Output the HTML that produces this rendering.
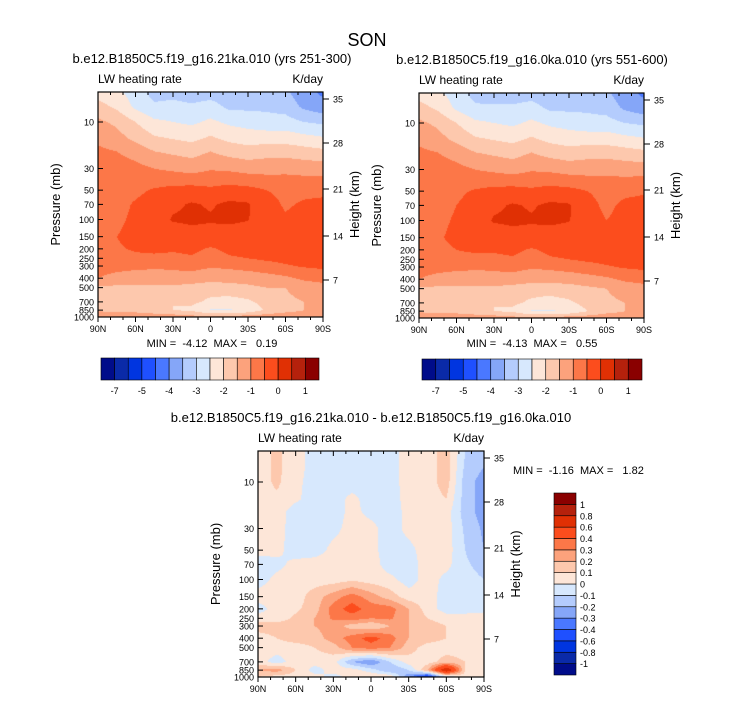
<!DOCTYPE html>
<html><head><meta charset="utf-8">
<style>
body{margin:0;background:#fff;width:733px;height:701px;overflow:hidden;position:relative;font-family:"Liberation Sans",sans-serif;}
canvas{position:absolute;left:0;top:0;}
svg{position:absolute;left:0;top:0;}
text{font-family:"Liberation Sans",sans-serif;fill:#000;white-space:pre;}
</style></head>
<body>
<canvas id="cv" width="733" height="701"></canvas>
<svg id="sv" width="733" height="701"></svg>
<script>
// ---- data ----
const lats = ['90N','75N','60N','45N','30N','15N','0','15S','30S','45S','60S','75S','90S'];
const pLevels = [5,7,10,15,20,30,50,70,100,150,200,250,300,400,500,700,850,1000];
const topLevels = [-7,-6,-5,-4.5,-4,-3.5,-3,-2.5,-2,-1.5,-1,-0.5,0,0.5,1];
const topLabels = ['-7','-5','-4','-3','-2','-1','0','1'];
const diffLevels = [-1,-0.8,-0.6,-0.4,-0.3,-0.2,-0.1,0,0.1,0.2,0.3,0.4,0.6,0.8,1];
const diffLabels = ['-1','-0.8','-0.6','-0.4','-0.3','-0.2','-0.1','0','0.1','0.2','0.3','0.4','0.6','0.8','1'];
const palette = ['#000c8a','#0a2aa8','#0035e0','#1f50ff','#4a78ff','#85a6f8','#b4ccfd','#d7e8fd','#fde6d8','#fdc8ad','#fca27c','#fc7748','#fc4d1d','#e03004','#b5210c','#8a0000'];
const pTicks = [10,30,50,70,100,150,200,250,300,400,500,700,850,1000];
const hTicks = ['35','28','21','14','7'];
const hTickOffsets = [7,51,97,144,188];
const latTicks = ['90N','60N','30N','0','30S','60S','90S'];

const fieldA = [
[-2.2,-2.4,-2.7,-3.2,-3.2,-3.3,-3.2,-3.3,-3.3,-3.4,-3.4,-3.8,-4.1],
[-1.8,-2.1,-2.6,-2.9,-2.8,-2.9,-2.8,-3.1,-3.1,-3.1,-3.2,-3.6,-3.8],
[-1.4,-1.6,-2.0,-2.4,-2.5,-2.6,-2.4,-2.6,-2.7,-2.8,-2.8,-3.0,-3.1],
[-1.1,-1.3,-1.6,-1.9,-2.0,-2.1,-1.9,-2.1,-2.2,-2.2,-2.2,-2.3,-2.4],
[-0.9,-1.0,-1.2,-1.5,-1.6,-1.7,-1.5,-1.7,-1.8,-1.7,-1.7,-1.8,-1.9],
[-0.7,-0.75,-0.85,-1.0,-1.1,-1.2,-1.05,-1.1,-1.2,-1.2,-1.15,-1.2,-1.2],
[-0.7,-0.7,-0.6,-0.45,-0.35,-0.3,-0.4,-0.3,-0.35,-0.5,-0.6,-0.6,-0.6],
[-0.7,-0.65,-0.45,-0.3,-0.1,0.05,-0.05,0.1,0.05,-0.35,-0.55,-0.45,-0.4],
[-0.7,-0.6,-0.4,-0.3,0.05,0.1,0.05,0.1,0.02,-0.3,-0.45,-0.35,-0.3],
[-0.7,-0.5,-0.35,-0.3,-0.3,-0.2,-0.2,-0.25,-0.25,-0.3,-0.3,-0.3,-0.3],
[-0.7,-0.55,-0.45,-0.4,-0.45,-0.4,-0.55,-0.4,-0.35,-0.3,-0.3,-0.3,-0.3],
[-0.7,-0.65,-0.6,-0.6,-0.6,-0.55,-0.7,-0.55,-0.5,-0.4,-0.35,-0.35,-0.35],
[-0.75,-0.8,-0.85,-0.9,-0.9,-0.85,-0.95,-0.9,-0.8,-0.7,-0.55,-0.45,-0.4],
[-1.0,-1.2,-1.3,-1.3,-1.2,-1.2,-1.3,-1.3,-1.3,-1.2,-1.1,-0.9,-0.8],
[-1.6,-1.6,-1.6,-1.6,-1.6,-1.7,-1.8,-1.7,-1.6,-1.5,-1.5,-1.3,-1.2],
[-1.7,-1.7,-1.7,-1.8,-2.0,-1.9,-2.1,-2.2,-2.1,-1.8,-1.6,-1.5,-1.5],
[-1.6,-1.7,-1.7,-1.8,-2.0,-2.1,-2.55,-2.55,-2.4,-1.9,-1.7,-1.5,-1.5],
[-1.0,-1.0,-1.1,-1.2,-1.2,-1.3,-1.4,-1.3,-1.2,-1.2,-1.1,-1.2,-1.4]];

const fieldB = [
[-2.2,-2.4,-2.7,-3.2,-3.3,-3.3,-3.2,-3.4,-3.4,-3.4,-3.4,-3.8,-4.1],
[-1.8,-2.1,-2.6,-2.9,-2.9,-2.9,-2.8,-3.1,-3.1,-3.1,-3.2,-3.6,-3.8],
[-1.4,-1.6,-2.0,-2.4,-2.5,-2.6,-2.4,-2.6,-2.7,-2.8,-2.8,-3.0,-3.1],
[-1.1,-1.3,-1.6,-1.9,-2.0,-2.1,-1.9,-2.1,-2.2,-2.2,-2.2,-2.3,-2.4],
[-0.9,-1.0,-1.2,-1.5,-1.6,-1.7,-1.5,-1.7,-1.8,-1.7,-1.7,-1.8,-1.9],
[-0.7,-0.75,-0.85,-1.0,-1.1,-1.2,-1.05,-1.1,-1.2,-1.2,-1.15,-1.2,-1.2],
[-0.7,-0.7,-0.6,-0.45,-0.35,-0.3,-0.4,-0.3,-0.35,-0.5,-0.65,-0.6,-0.55],
[-0.7,-0.65,-0.5,-0.3,-0.1,0.05,-0.05,0.1,0.05,-0.35,-0.6,-0.4,-0.35],
[-0.7,-0.6,-0.45,-0.3,0.05,0.1,0.05,0.1,0.02,-0.3,-0.5,-0.35,-0.3],
[-0.7,-0.55,-0.4,-0.3,-0.3,-0.2,-0.2,-0.25,-0.25,-0.3,-0.3,-0.3,-0.3],
[-0.7,-0.6,-0.5,-0.45,-0.45,-0.4,-0.55,-0.4,-0.35,-0.3,-0.3,-0.3,-0.3],
[-0.7,-0.65,-0.6,-0.6,-0.6,-0.55,-0.7,-0.55,-0.5,-0.4,-0.35,-0.35,-0.35],
[-0.75,-0.8,-0.85,-0.9,-0.9,-0.85,-0.95,-0.9,-0.8,-0.7,-0.55,-0.45,-0.4],
[-1.0,-1.2,-1.3,-1.3,-1.2,-1.2,-1.3,-1.3,-1.3,-1.2,-1.1,-0.9,-0.8],
[-1.6,-1.6,-1.6,-1.6,-1.6,-1.7,-1.8,-1.8,-1.7,-1.6,-1.5,-1.3,-1.2],
[-1.7,-1.7,-1.7,-1.8,-2.0,-1.9,-2.1,-2.2,-2.1,-1.8,-1.6,-1.5,-1.5],
[-1.6,-1.7,-1.7,-1.8,-2.0,-2.1,-2.55,-2.55,-2.45,-2.0,-1.7,-1.5,-1.5],
[-1.0,-1.0,-1.1,-1.2,-1.2,-1.3,-1.4,-1.3,-1.2,-1.2,-1.1,-1.2,-1.4]];

const fieldDiff = [
[0.05,0.12,0.05,-0.05,-0.05,-0.05,-0.05,-0.05,0.05,0.05,0.15,-0.1,-0.15],
[0.05,0.12,0.05,-0.05,-0.05,-0.05,-0.05,-0.05,0.05,0.05,0.15,-0.12,-0.2],
[0.05,0.12,0.03,-0.05,-0.05,-0.05,-0.05,-0.05,0.05,0.05,0.15,-0.15,-0.25],
[0.05,0.08,0.02,-0.05,-0.05,0.03,-0.05,-0.05,0.04,0.05,0.1,-0.15,-0.25],
[0.05,0.05,-0.05,-0.05,-0.05,0.03,-0.03,-0.05,0.03,0.05,0.05,-0.15,-0.25],
[0.04,0.04,-0.05,-0.05,-0.03,0.04,0.03,-0.05,0.03,0.05,0.05,-0.12,-0.22],
[0.03,0.03,-0.05,-0.05,0.03,0.05,0.03,-0.05,-0.03,0.05,0.05,-0.1,-0.2],
[-0.05,-0.03,0.03,0.05,0.05,0.05,0.05,-0.05,-0.05,0.05,0.03,-0.08,-0.15],
[-0.05,0.03,0.05,0.05,0.05,0.08,0.05,0.03,-0.05,0.05,-0.03,-0.05,-0.1],
[0.05,0.05,0.05,0.15,0.25,0.35,0.25,0.15,0.05,0.05,-0.05,-0.05,-0.05],
[-0.05,0.05,0.08,0.15,0.35,0.45,0.35,0.35,0.2,0.05,-0.05,-0.05,-0.03],
[0.05,0.05,0.12,0.2,0.32,0.35,0.3,0.32,0.2,0.1,0.05,0.05,0.05],
[0.15,0.15,0.15,0.2,0.25,0.15,0.1,0.2,0.2,0.15,0.1,0.1,0.1],
[0.05,0.1,0.15,0.15,0.25,0.35,0.45,0.35,0.2,0.15,0.1,0.05,0.05],
[0.05,0.05,0.05,0.1,0.15,0.3,0.35,0.3,0.15,0.05,0.05,0.05,0.05],
[0.05,-0.05,0.05,0.05,0.05,-0.2,-0.3,-0.1,0.05,0.05,0.15,0.1,0.05],
[0.2,0.25,0.1,-0.05,0.05,0.05,-0.05,-0.2,-0.1,0.2,0.8,0.1,0.05],
[0.1,0.05,0.05,0.05,-0.05,0.05,0.1,0.1,-0.3,-0.6,-0.1,0.05,0.05]];

// ---- drawing ----
const ctx = document.getElementById('cv').getContext('2d');
const sv = document.getElementById('sv');
const NS = 'http://www.w3.org/2000/svg';
const K = 97.5;
function mk(tag, attrs, txt){
  const e = document.createElementNS(NS, tag);
  for (const k in attrs) e.setAttribute(k, attrs[k]);
  if (txt !== undefined) e.textContent = txt;
  sv.appendChild(e);
  return e;
}
function levelIndex(v, levels){
  let i = 0; while (i < levels.length && v >= levels[i]) i++; return i;
}
const lpl = pLevels.map(Math.log10);
function sample(field, fx, lp){
  let r = 0;
  while (r < lpl.length - 2 && lp > lpl[r+1]) r++;
  let t = (lp - lpl[r]) / (lpl[r+1] - lpl[r]); t = Math.max(0, Math.min(1, t));
  let c = Math.min(Math.floor(fx), lats.length - 2); const s = fx - c;
  const a = field[r][c], b = field[r][c+1], d = field[r+1][c], e = field[r+1][c+1];
  return (a*(1-s) + b*s)*(1-t) + (d*(1-s) + e*s)*t;
}
function panel(o){
  const {x0,x1,y0,y1,field,levels} = o;
  const w = x1 - x0, h = y1 - y0;
  for (let py = y0; py < y1; py++){
    const lp = 3 - (y1 - (py + 0.5)) / K;
    for (let px = x0; px < x1; px++){
      const fx = (px + 0.5 - x0) / w * (lats.length - 1);
      const v = sample(field, fx, lp);
      ctx.fillStyle = palette[levelIndex(v, levels)];
      ctx.fillRect(px, py, 1, 1);
    }
  }
  const fr = mk('rect', {x:x0, y:y0, width:w, height:h, fill:'none', stroke:'#000', 'stroke-width':1.2});
  
  
  for (let d = 0; d <= 180; d += 10){
    const x = x0 + d / 180 * w, L = d % 30 === 0 ? 5 : 3;
    mk('line', {x1:x, x2:x, y1:y1, y2:y1 + L, stroke:'#000'});
    mk('line', {x1:x, x2:x, y1:y0, y2:y0 + L, stroke:'#000'});
  }
  latTicks.forEach((t, i) => {
    const el = mk('text', {x:x0 + i * w / 6, y:y1 + 15, 'font-size':9, 'text-anchor':'middle'}, t);
    
    
  });
  pTicks.forEach(p => {
    const y = y1 - (3 - Math.log10(p)) * K;
    mk('line', {x1:x0, x2:x0 + 5, y1:y, y2:y, stroke:'#000'});
    const el = mk('text', {x:x0 - 4, y:y + 3.5, 'font-size':9, 'text-anchor':'end'}, String(p));
    
    
  });
  hTicks.forEach((t, i) => {
    const y = y0 + hTickOffsets[i];
    mk('line', {x1:x1, x2:x1 + 6, y1:y, y2:y, stroke:'#000'});
    const el = mk('text', {x:x1 + 10, y:y + 3.5, 'font-size':9}, t);
    
    
  });
  const yt = mk('text', {x:0, y:0, 'font-size':13, 'text-anchor':'middle', transform:`translate(${x0-38},${(y0+y1)/2}) rotate(-90)`}, 'Pressure (mb)');
  
  
  const ht = mk('text', {x:0, y:0, 'font-size':13, 'text-anchor':'middle', transform:`translate(${x1+36},${(y0+y1)/2}) rotate(-90)`}, 'Height (km)');
  
  
  const lw = mk('text', {x:x0, y:y0 - 9, 'font-size':12}, 'LW heating rate');
  
  
  const un = mk('text', {x:x1, y:y0 - 9, 'font-size':12, 'text-anchor':'end'}, 'K/day');
  
  
  const st = mk('text', {x:o.titleX, y:y0 - 29, 'font-size':13, 'text-anchor':'middle'}, o.title);
  
  
}
function hbar(x0, x1, y0, y1){
  const bw = (x1 - x0) / palette.length;
  palette.forEach((c, i) => {
    const r = mk('rect', {x:x0 + i * bw, y:y0, width:bw, height:y1 - y0, fill:c, stroke:'#000', 'stroke-width':0.6});
    
    
  });
  topLabels.forEach((t, i) => {
    const el = mk('text', {x:x0 + (2 * i + 1) * bw, y:y1 + 14, 'font-size':9, 'text-anchor':'middle'}, t);
    
    
  });
}

const t0 = mk('text', {x:367, y:46, 'font-size':18, 'text-anchor':'middle'}, 'SON');



panel({name:'panel-21ka', x0:98, x1:323, y0:92, y1:317, field:fieldA, levels:topLevels, titleX:212, title:'b.e12.B1850C5.f19_g16.21ka.010 (yrs 251-300)'});
panel({name:'panel-0ka', x0:419, x1:644, y0:93, y1:318, field:fieldB, levels:topLevels, titleX:532, title:'b.e12.B1850C5.f19_g16.0ka.010 (yrs 551-600)'});
panel({name:'panel-difference', x0:258, x1:484, y0:451, y1:677, field:fieldDiff, levels:diffLevels, titleX:371, title:'b.e12.B1850C5.f19_g16.21ka.010 - b.e12.B1850C5.f19_g16.0ka.010'});

const m1 = mk('text', {x:212, y:347, 'font-size':11, 'text-anchor':'middle'}, 'MIN =  -4.12  MAX =   0.19');


const m2 = mk('text', {x:532, y:347, 'font-size':11, 'text-anchor':'middle'}, 'MIN =  -4.13  MAX =   0.55');


const m3 = mk('text', {x:513, y:474, 'font-size':11}, 'MIN =  -1.16  MAX =   1.82');



hbar(101, 319, 358, 380);
hbar(422, 642, 359, 380);

(function(){
  const x0 = 554, x1 = 576, y0 = 493, y1 = 675;
  const bh = (y1 - y0) / palette.length;
  palette.forEach((c, i) => {
    const r = mk('rect', {x:x0, y:y1 - (i + 1) * bh, width:x1 - x0, height:bh, fill:c, stroke:'#000', 'stroke-width':0.6});
    
    
  });
  diffLabels.forEach((t, i) => {
    const el = mk('text', {x:x1 + 4, y:y1 - (i + 1) * bh + 3.5, 'font-size':9}, t);
    
    
  });
})();
</script>
</body></html>
